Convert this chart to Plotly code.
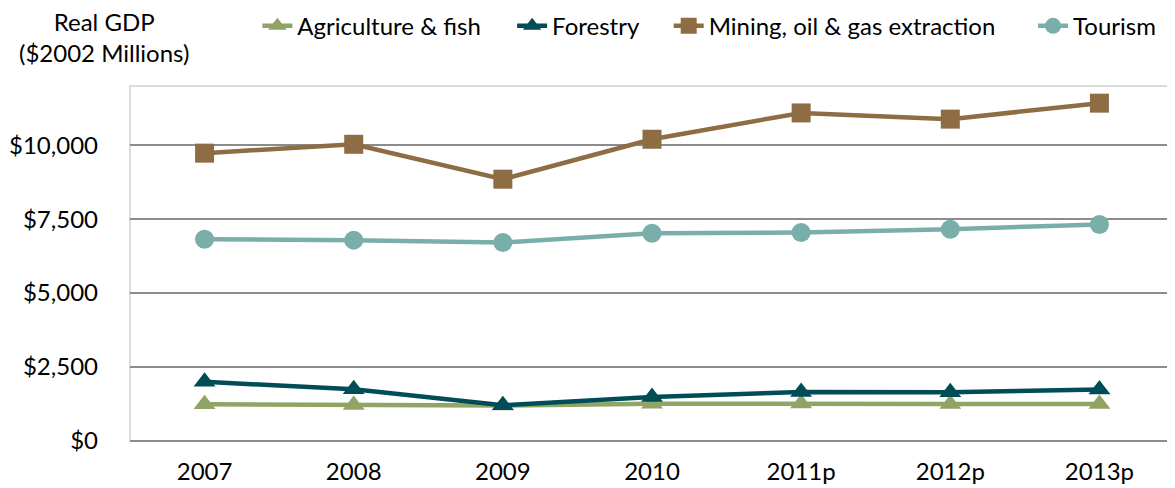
import plotly.graph_objects as go

years = ['2007', '2008', '2009', '2010', '2011p', '2012p', '2013p']

agriculture = [1240, 1220, 1200, 1260, 1270, 1250, 1250]
forestry = [2000, 1750, 1210, 1490, 1660, 1650, 1740]
mining = [9730, 10030, 8850, 10200, 11090, 10880, 11420]
tourism = [6820, 6790, 6710, 7020, 7050, 7160, 7320]

series = [
    ('Agriculture & fish', agriculture, '#8fa465', 'triangle-up'),
    ('Forestry', forestry, '#004d57', 'triangle-up'),
    ('Mining, oil & gas extraction', mining, '#8e6c44', 'square'),
    ('Tourism', tourism, '#7aaeaa', 'circle'),
]
# one legend per entry so each can sit where the original puts it
legend_x = [0.122, 0.366, 0.516, 0.865]
legend_ids = ['legend', 'legend2', 'legend3', 'legend4']

font = 'Lato, "Open Sans", sans-serif'

fig = go.Figure()
for (name, vals, color, sym), lg in zip(series, legend_ids):
    fig.add_trace(go.Scatter(
        x=years, y=vals, name=name, mode='lines+markers',
        line=dict(color=color, width=4.5),
        marker=dict(symbol=sym, size=19, color=color),
        cliponaxis=False, legend=lg,
    ))

# page has an 8px body margin, so the figure is 8px smaller than the window
fig.update_layout(
    width=1167, height=480,
    margin=dict(l=122, r=1, t=78, b=47, autoexpand=False),
    paper_bgcolor='white', plot_bgcolor='white',
    font=dict(family=font, size=24, color='black'),
    showlegend=True,
)
for lg, lx in zip(legend_ids, legend_x):
    fig.update_layout({lg: dict(orientation='h', x=lx, y=0.962, xref='paper',
                                yref='container', yanchor='middle',
                                font=dict(size=24), itemwidth=30,
                                bgcolor='rgba(0,0,0,0)')})

# y-axis title sits above the tick labels, top-left
fig.add_annotation(text='Real GDP<br>($2002 Millions)', xref='paper', yref='paper',
                   x=-0.025, y=1.138, xanchor='center', yanchor='middle',
                   showarrow=False, font=dict(size=24), align='center')

fig.update_xaxes(type='category', range=[-0.5, 6.5], showgrid=False,
                 showline=False, ticks='', tickfont=dict(size=24),
                 ticklabelstandoff=14)
fig.update_yaxes(range=[0, 12000], dtick=2500, tickprefix='$', tickformat=',',
                 showgrid=True, gridcolor='#8c8c8c', gridwidth=1.5,
                 zeroline=True, zerolinecolor='#8c8c8c', zerolinewidth=1.5,
                 ticks='', tickfont=dict(size=24), ticklabelstandoff=31)
# light frame around plot area
fig.add_shape(type='rect', xref='paper', yref='paper', x0=0, x1=1, y0=0, y1=1,
              line=dict(color='#cfcfcf', width=1.5), layer='below')

fig.write_html("out.html")
